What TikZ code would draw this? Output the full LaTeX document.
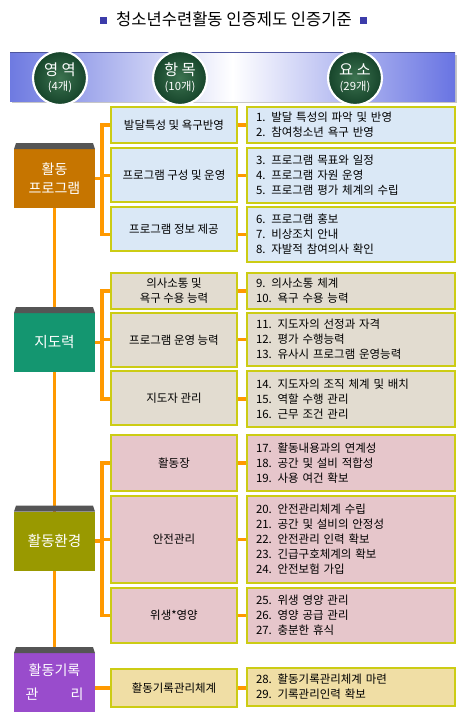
\documentclass[tikz,border=0pt]{standalone}
\usepackage{fontspec}
\setmainfont{Noto Sans CJK KR}
\usetikzlibrary{calc,backgrounds}
\definecolor{catA}{RGB}{198,117,0}
\definecolor{catB}{RGB}{20,150,112}
\definecolor{catC}{RGB}{153,153,0}
\definecolor{catD}{RGB}{153,76,204}
\definecolor{capgray}{RGB}{85,85,85}
\definecolor{lineor}{RGB}{255,153,0}
\definecolor{bord}{RGB}{204,204,20}
\definecolor{fillA}{RGB}{218,232,246}
\definecolor{fillB}{RGB}{226,220,208}
\definecolor{fillC}{RGB}{230,198,203}
\definecolor{fillD}{RGB}{240,222,165}
\definecolor{titsq}{RGB}{60,60,170}
\definecolor{hblue}{RGB}{110,122,225}
\definecolor{gdark}{RGB}{22,68,42}
\definecolor{glight}{RGB}{60,115,80}
\newcommand{\pxu}{0.75pt}
\tikzset{
  catbox/.style={minimum width=81*\pxu, minimum height=59*\pxu, inner sep=0pt, outer sep=0pt,
    text=white, align=center, font=\fontsize{10.5}{14.25}\selectfont},
  itembox/.style={draw=bord, line width=2.2pt, minimum width=126*\pxu, inner sep=0pt, outer sep=0pt,
    align=center, font=\fontsize{8.6}{11.25}\selectfont},
  elembox/.style={draw=bord, line width=2.2pt, text width=190*\pxu, inner xsep=9*\pxu, inner ysep=0pt,
    outer sep=0pt, align=left, font=\fontsize{8.6}{11.25}\selectfont},
  conn/.style={draw=lineor, line width=2.4pt},
  circ/.style={circle, minimum size=54*\pxu, inner sep=0pt, draw=white, line width=1.6pt,
    inner color=glight, outer color=gdark, text=white, align=center},
  capshape/.style={fill=capgray}
}
\begin{document}
\begin{tikzpicture}[x=0.75pt,y=-0.75pt]
\useasboundingbox (0,0) rectangle (467,718);

% title
\node[fill=titsq, minimum size=7*\pxu, inner sep=0pt] (sqL) at (103,20) {};
\node[fill=titsq, minimum size=7*\pxu, inner sep=0pt] (sqR) at (363,20) {};
\node[font=\fontsize{12.4}{14}\selectfont, inner sep=0pt] (title) at (234,19) {청소년수련활동 인증제도 인증기준};

% header band
\fill[gray!45] (12,55) rectangle (457,103);
\shade[left color=hblue, right color=hblue!95!blue, middle color=white] (10,52) rectangle (455,101);
\draw[hblue!70!black, line width=0.6pt] (10,52) -- (455,52);
\node[circ] (h1) at (60,78) {\fontsize{11.5}{13}\selectfont 영 역\\[-1pt]\fontsize{8.5}{10}\selectfont (4개)};
\node[circ] (h2) at (180,78) {\fontsize{11.5}{13}\selectfont 항 목\\[-1pt]\fontsize{8.5}{10}\selectfont (10개)};
\node[circ] (h3) at (355,78) {\fontsize{11.5}{13}\selectfont 요 소\\[-1pt]\fontsize{8.5}{10}\selectfont (29개)};

% category boxes
\node[catbox, fill=catA] (L1) at (54.5,178.5) {활동\\프로그램};
\node[catbox, fill=catB] (L2) at (54.5,342.5) {\fontsize{11}{14}\selectfont 지도력};
\node[catbox, fill=catC] (L3) at (54.5,541) {\fontsize{11}{14}\selectfont 활동환경};
\node[catbox, fill=catD, font=\fontsize{10.5}{18}\selectfont] (L4) at (54.5,682.5) {활동기록\\관\hspace{2.3em}리};
\foreach \n in {L1,L2,L3,L4}{
  \fill[capshape] ($(\n.north west)+(2,-6)$) -- ($(\n.north east)+(-2,-6)$) -- (\n.north east) -- (\n.north west) -- cycle;
}

% item boxes
\node[itembox, fill=fillA, minimum height=36*\pxu] (M1) at (174,125) {발달특성 및 욕구반영};
\node[itembox, fill=fillA, minimum height=54*\pxu] (M2) at (174,175) {프로그램 구성 및 운영};
\node[itembox, fill=fillA, minimum height=44*\pxu] (M3) at (174,229) {\raisebox{-5pt}{프로그램 정보 제공}};
\node[itembox, fill=fillB, minimum height=36*\pxu] (M4) at (174,291) {의사소통 및\\욕구 수용 능력};
\node[itembox, fill=fillB, minimum height=54*\pxu] (M5) at (174,340) {프로그램 운영 능력};
\node[itembox, fill=fillB, minimum height=54*\pxu] (M6) at (174,398) {지도자 관리};
\node[itembox, fill=fillC, minimum height=56*\pxu] (M7) at (174,463) {활동장};
\node[itembox, fill=fillC, minimum height=87*\pxu] (M8) at (174,539.5) {안전관리};
\node[itembox, fill=fillC, minimum height=55*\pxu] (M9) at (174,615.5) {위생*영양};
\node[itembox, fill=fillD, minimum height=38*\pxu] (M10) at (174,688) {활동기록관리체계};

% element boxes
\node[elembox, fill=fillA, minimum height=36*\pxu] (R1) at (351,125) {1. 발달 특성의 파악 및 반영\\2. 참여청소년 욕구 반영};
\node[elembox, fill=fillA, minimum height=55*\pxu] (R2) at (351,175.5) {3. 프로그램 목표와 일정\\4. 프로그램 자원 운영\\5. 프로그램 평가 체계의 수립};
\node[elembox, fill=fillA, minimum height=55*\pxu] (R3) at (351,234.5) {6. 프로그램 홍보\\7. 비상조치 안내\\8. 자발적 참여의사 확인};
\node[elembox, fill=fillB, minimum height=36*\pxu] (R4) at (351,291) {9. 의사소통 체계\\10. 욕구 수용 능력};
\node[elembox, fill=fillB, minimum height=53*\pxu] (R5) at (351,339.5) {11. 지도자의 선정과 자격\\12. 평가 수행능력\\13. 유사시 프로그램 운영능력};
\node[elembox, fill=fillB, minimum height=56*\pxu] (R6) at (351,399) {14. 지도자의 조직 체계 및 배치\\15. 역할 수행 관리\\16. 근무 조건 관리};
\node[elembox, fill=fillC, minimum height=56*\pxu] (R7) at (351,463) {17. 활동내용과의 연계성\\18. 공간 및 설비 적합성\\19. 사용 여건 확보};
\node[elembox, fill=fillC, minimum height=87*\pxu] (R8) at (351,539.5) {20. 안전관리체계 수립\\21. 공간 및 설비의 안정성\\22. 안전관리 인력 확보\\23. 긴급구호체계의 확보\\24. 안전보험 가입};
\node[elembox, fill=fillC, minimum height=55*\pxu] (R9) at (351,615.5) {25. 위생 영양 관리\\26. 영양 공급 관리\\27. 충분한 휴식};
\node[elembox, fill=fillD, minimum height=38*\pxu] (R10) at (351,687) {28. 활동기록관리체계 마련\\29. 기록관리인력 확보};

\coordinate (bx) at (102,0);

\begin{pgfonlayer}{background}
  \fill[white] (0,0) rectangle (467,718);
  \draw[conn] (L1.center) -- (L4.center);
  \foreach \l/\m/\r in {L1/M1/R1, L1/M2/R2, L1/M3/R3, L2/M4/R4, L2/M5/R5, L2/M6/R6, L3/M7/R7, L3/M8/R8, L3/M9/R9}{
    \draw[conn] (\l.east) -| (bx |- \r.west) -- (\r.west -| \m.west);
    \draw[conn] (\r.west -| \m.east) -- (\r.west);
  }
  \draw[conn] (L4.east |- M10.west) -- (M10.west);
  \draw[conn] (M10.east) -- (M10.east -| R10.west);
\end{pgfonlayer}
\end{tikzpicture}
\end{document}
